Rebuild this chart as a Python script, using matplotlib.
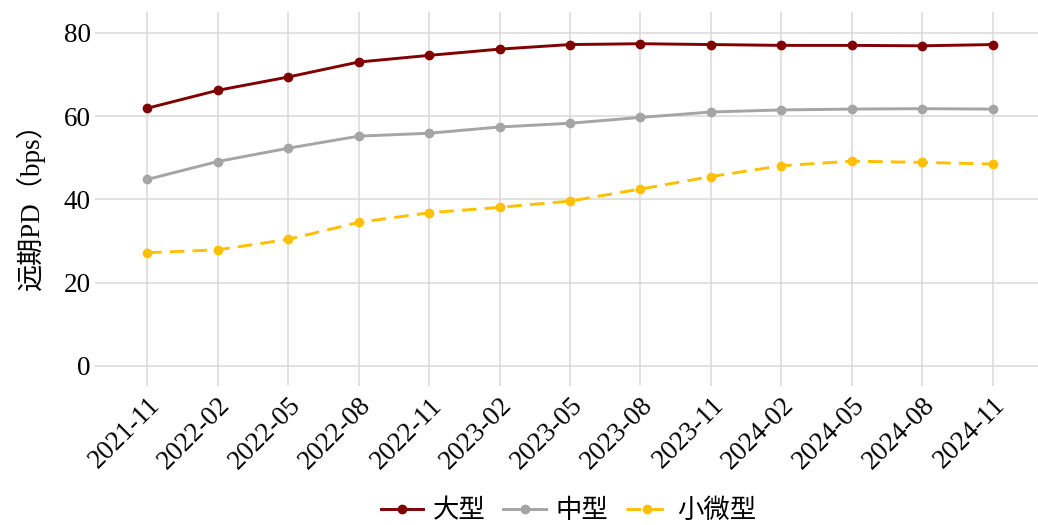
import matplotlib
matplotlib.use("Agg")
import matplotlib.pyplot as plt

categories = ["2021-11", "2022-02", "2022-05", "2022-08", "2022-11", "2023-02",
              "2023-05", "2023-08", "2023-11", "2024-02", "2024-05", "2024-08", "2024-11"]
large = [61.9, 66.2, 69.4, 73.0, 74.6, 76.1, 77.2, 77.4, 77.2, 77.0, 77.0, 76.9, 77.2]
medium = [44.8, 49.1, 52.3, 55.2, 55.9, 57.4, 58.3, 59.7, 61.0, 61.5, 61.7, 61.8, 61.7]
small = [27.2, 27.9, 30.4, 34.5, 36.8, 38.1, 39.6, 42.5, 45.5, 48.1, 49.2, 48.9, 48.5]
series_names = ["大型", "中型", "小微型"]
y_ticks = [0, 20, 40, 60, 80]
y_label = "远期PD（bps）"

fam = ["Liberation Serif", "Noto Sans CJK SC", "DejaVu Sans"]
plt.rcParams["font.family"] = fam

fig = plt.figure(figsize=(10.38, 5.25), dpi=100)
ax = fig.add_axes([0.0915, 0.2648, 0.9085, 0.7122])

x = list(range(len(categories)))
ax.plot(x, large, color="#800000", lw=2.1, marker="o", ms=6, label=series_names[0], zorder=3)
ax.plot(x, medium, color="#a5a5a5", lw=2.1, marker="o", ms=6, label=series_names[1], zorder=3)
ax.plot(x, small, color="#ffc000", lw=2.1, marker="o", ms=6, dashes=(5.0, 2.8),
        label=series_names[2], zorder=3)

ax.set_xlim(-0.74, 12.64)
ax.set_ylim(-4.8, 85)
ax.set_xticks(x)
ax.set_xticklabels(categories, rotation=45, ha="right", va="top", rotation_mode="anchor",
                   fontsize=19.5)
ax.set_yticks(y_ticks)
ax.set_yticklabels([str(v) for v in y_ticks], fontsize=19.5)
ax.tick_params(axis="both", length=0)
ax.tick_params(axis="y", pad=3)
ax.tick_params(axis="x", pad=5)

for v in y_ticks:
    ax.axhline(v, color="#d9d9d9", lw=1.1, zorder=1)
for xi in x:
    ax.axvline(xi, color="#d9d9d9", lw=1.1, zorder=1)

for s in ax.spines.values():
    s.set_visible(False)

fig.text(0.029, 0.619, y_label, rotation=90, ha="center", va="center", fontsize=19.5)

leg = fig.legend(loc="center", bbox_to_anchor=(0.548, 0.027), ncol=3, frameon=False,
                 fontsize=19, handlelength=1.6, handletextpad=0.36, columnspacing=0.68,
                 borderpad=0, borderaxespad=0)

fig.savefig("out.png", dpi=100)
